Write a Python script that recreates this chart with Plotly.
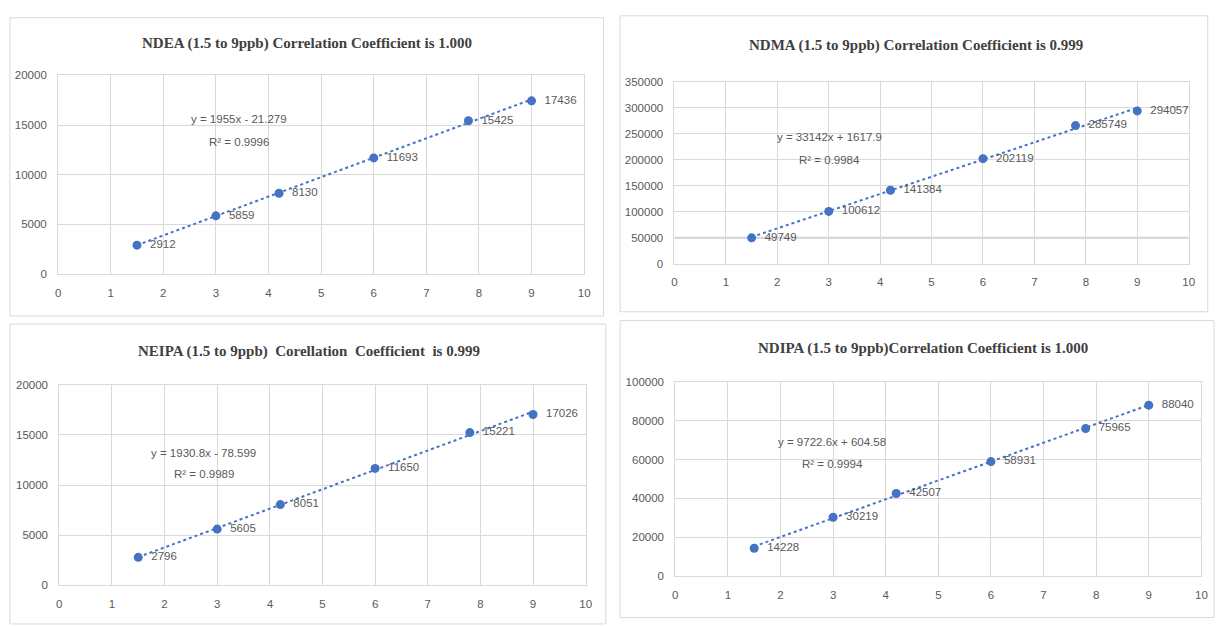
import plotly.graph_objects as go
import numpy as np

# ---- data ----
conc = [1.5, 3, 4.2, 6, 7.8, 9]

titles = [
    "NDEA (1.5 to 9ppb) Correlation Coefficient is 1.000",
    "NDMA (1.5 to 9ppb) Correlation Coefficient is 0.999",
    "NEIPA (1.5 to 9ppb)  Corellation  Coefficient  is 0.999",
    "NDIPA (1.5 to 9ppb)Correlation Coefficient is 1.000",
]

ndea = [2912, 5859, 8130, 11693, 15425, 17436]
ndma = [49749, 100612, 141384, 202119, 265749, 294057]
neipa = [2796, 5605, 8051, 11650, 15221, 17026]
ndipa = [14228, 30219, 42507, 58931, 75965, 88040]

ndea_labels = ["2912", "5859", "8130", "11693", "15425", "17436"]
ndma_labels = ["49749", "100612", "141384", "202119", "285749", "294057"]
neipa_labels = ["2796", "5605", "8051", "11650", "15221", "17026"]
ndipa_labels = ["14228", "30219", "42507", "58931", "75965", "88040"]

slopes = [1955, 33142, 1930.8, 9722.6]
intercepts = [-21.279, 1617.9, -78.599, 604.58]
equations = ["y = 1955x - 21.279", "y = 33142x + 1617.9",
             "y = 1930.8x - 78.599", "y = 9722.6x + 604.58"]
r2_texts = ["R² = 0.9996", "R² = 0.9984", "R² = 0.9989", "R² = 0.9994"]

y_max = [20000, 350000, 20000, 100000]
y_step = [5000, 50000, 5000, 20000]
x_ticks = list(range(0, 11))

series = [ndea, ndma, neipa, ndipa]
labels = [ndea_labels, ndma_labels, neipa_labels, ndipa_labels]

# equation annotation anchor (data coords)
eq_pos = [(3.44, 15600, 13300), (3.02, 243000, 199500),
          (2.74, 13160, 11110), (2.98, 68800, 57600)]

# ---- layout geometry (page pixels) ----
W, H = 1217, 627
plot_px = [  # x0, x1, ytop, ybottom
    (55.5, 585.5, 70.7, 273.3),
    (676.5, 1194.5, 77.3, 262.7),
    (56.7, 587.0, 386.0, 590.7),
    (677.3, 1207.3, 383.3, 581.0),
]
panel_px = [  # x0, x1, ytop, ybottom
    (7, 605, 12, 316),
    (621.7, 1213.7, 10, 311.7),
    (7, 607.3, 324.3, 630),
    (621.7, 1220, 320.7, 623.5),
]
title_px = [(306, 38), (920, 40), (308, 352), (927, 349)]


def fx(p):
    return p / W


def fy(p):
    return 1 - p / H


BLUE = "#4472C4"
GRID = "#d9d9d9"
TXT = "#595959"
SANS = "Liberation Sans, Arial, sans-serif"
FS = 11.5

fig = go.Figure()
layout = dict(width=W, height=H, margin=dict(l=0, r=0, t=0, b=0),
              paper_bgcolor="white", plot_bgcolor="white", showlegend=False)
annotations = []
shapes = []

for i in range(4):
    n = "" if i == 0 else str(i + 1)
    xa, ya = "x" + n, "y" + n
    x0, x1, yt, yb = plot_px[i]
    layout["xaxis" + n] = dict(
        domain=[fx(x0), fx(x1)], range=[0, 10], tickvals=x_ticks,
        showgrid=True, gridcolor=GRID, gridwidth=1, zeroline=False,
        showline=True, linecolor=GRID, linewidth=1, mirror=True,
        ticks="", tickfont=dict(family=SANS, size=FS, color=TXT),
        ticklabelstandoff=8, anchor=ya, fixedrange=True)
    layout["yaxis" + n] = dict(
        domain=[fy(yb), fy(yt)], range=[0, y_max[i]],
        tickvals=list(range(0, y_max[i] + 1, y_step[i])), tickformat="d",
        showgrid=True, gridcolor=GRID, gridwidth=1, zeroline=False,
        showline=True, linecolor=GRID, linewidth=1, mirror=True,
        ticks="", tickfont=dict(family=SANS, size=FS, color=TXT),
        ticklabelstandoff=8, anchor=xa, fixedrange=True)

    # trendline from the equation
    tx = np.array([conc[0], conc[-1]])
    ty = slopes[i] * tx + intercepts[i]
    fig.add_trace(go.Scatter(x=tx, y=ty, mode="lines", xaxis=xa, yaxis=ya,
                             line=dict(color=BLUE, width=2, dash="dot"),
                             hoverinfo="skip"))
    # points with labels
    fig.add_trace(go.Scatter(x=conc, y=series[i], mode="markers+text",
                             xaxis=xa, yaxis=ya, text=labels[i],
                             texttemplate="\u00a0\u00a0%{text}",
                             textposition="middle right",
                             textfont=dict(family=SANS, size=FS, color=TXT),
                             marker=dict(color=BLUE, size=9)))

    ex, ey1, ey2 = eq_pos[i]
    annotations.append(dict(x=ex, y=ey1, xref=xa, yref=ya, text=equations[i],
                            showarrow=False, font=dict(family=SANS, size=FS, color=TXT)))
    annotations.append(dict(x=ex, y=ey2, xref=xa, yref=ya, text=r2_texts[i],
                            showarrow=False, font=dict(family=SANS, size=FS, color=TXT)))

    tx_, ty_ = title_px[i]
    annotations.append(dict(x=fx(tx_), y=fy(ty_), xref="paper", yref="paper",
                            text="<b>" + titles[i] + "</b>", showarrow=False,
                            xanchor="center", yanchor="middle",
                            font=dict(family="Liberation Serif, Times New Roman, serif",
                                      size=15, color="#404040")))

    px0, px1, pyt, pyb = panel_px[i]
    shapes.append(dict(type="rect", xref="paper", yref="paper",
                       x0=fx(px0), x1=fx(px1), y0=fy(pyb), y1=fy(pyt),
                       line=dict(color=GRID, width=1), fillcolor="rgba(0,0,0,0)",
                       layer="below"))

# heavier gridline seen at 50000 in the NDMA panel
shapes.append(dict(type="line", xref="x2", yref="y2", x0=0, x1=10,
                   y0=y_step[1], y1=y_step[1],
                   line=dict(color="#c8c8c8", width=2), layer="below"))

layout["annotations"] = annotations
layout["shapes"] = shapes
fig.update_layout(**layout)
fig.write_html(
    "out.html",
    config={"displayModeBar": False},
    post_script="document.body.style.margin='0';document.body.style.overflow='hidden';",
)
